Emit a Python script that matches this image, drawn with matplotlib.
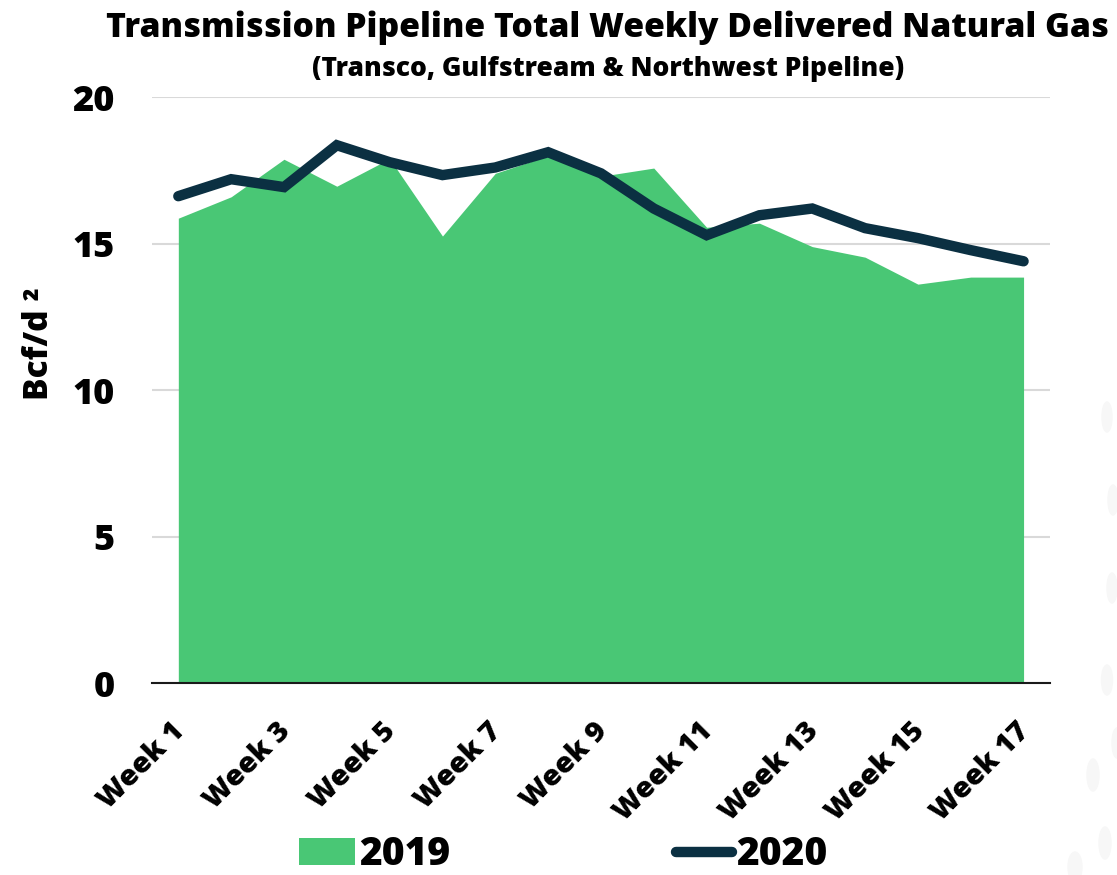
import numpy as np
import matplotlib.pyplot as plt
from matplotlib.patches import Ellipse
from matplotlib.transforms import ScaledTranslation

weeks = [f"Week {i}" for i in range(1, 18)]
gas_2019 = [15.87, 16.6, 17.88, 16.96, 17.9, 15.26, 17.4, 18.0, 17.3, 17.58,
            15.56, 15.7, 14.9, 14.54, 13.62, 13.86, 13.86]
gas_2020 = [16.62, 17.2, 16.93, 18.36, 17.78, 17.34, 17.6, 18.12, 17.4, 16.2,
            15.29, 15.97, 16.2, 15.53, 15.19, 14.78, 14.4]
yticks = [0, 5, 10, 15, 20]

GREEN = "#49c775"
NAVY = "#0b3042"
FONT = "Open Sans"
W = "heavy"

plt.rcParams["font.family"] = [FONT, "DejaVu Sans"]
plt.rcParams["font.weight"] = "bold"

fig = plt.figure(figsize=(11.17, 8.75), dpi=100)

# faint decorative dots along the right edge (background art)
for (px, py, w, h) in [(1107, 417, 10, 30), (1113, 500, 10, 30), (1112, 588, 10, 30),
                       (1107, 680, 11, 30), (1117, 743, 10, 30), (1093, 775, 12, 32),
                       (1105, 843, 12, 32), (1075, 867, 14, 30)]:
    fig.patches.append(Ellipse((px / 1117, 1 - py / 875), w / 1117, h / 875,
                               transform=fig.transFigure, color="#f7f7f7", zorder=0))

ax = fig.add_axes([0.136, 0.219, 0.804, 0.670])
ax.patch.set_alpha(0)

x = np.arange(1, len(weeks) + 1)
ax.fill_between(x, gas_2019, 0, color=GREEN, linewidth=0, label="2019", zorder=2)
ax.plot(x, gas_2020, color=NAVY, linewidth=7.5, solid_capstyle="round",
        solid_joinstyle="miter", label="2020", zorder=3)

ax.set_xlim(0.5, 17.5)
ax.set_ylim(0, 20)
ax.set_yticks(yticks)
ax.set_yticklabels([str(t) for t in yticks], fontsize=26, fontweight=W)
ax.yaxis.grid(True, color="#d9d9d9", linewidth=1.5, zorder=0)
ax.set_axisbelow(True)

ax.set_xticks(x[::2])
ax.set_xticklabels(weeks[::2], rotation=45, ha="right", rotation_mode="anchor",
                   fontsize=21, fontweight=W)
ax.tick_params(axis="y", length=0, pad=27)
ax.tick_params(axis="x", length=0, pad=24)
shift = ScaledTranslation(-8 / 100, 0, fig.dpi_scale_trans)
for lab in ax.get_xticklabels():
    lab.set_transform(lab.get_transform() + shift)

for s in ["top", "right", "left"]:
    ax.spines[s].set_visible(False)
ax.spines["bottom"].set_color("#1a1a1a")
ax.spines["bottom"].set_linewidth(1.5)
ax.spines["bottom"].set_zorder(4)

ax.set_ylabel("Bcf/d ²", fontsize=24, fontweight=W)
ax.yaxis.set_label_coords(-0.107, 0.58)

fig.text(0.544, 0.968, "Transmission Pipeline Total Weekly Delivered Natural Gas",
         ha="center", va="center", fontsize=24.2, fontweight=W)
fig.text(0.544, 0.921, "(Transco, Gulfstream & Northwest Pipeline)",
         ha="center", va="center", fontsize=19, fontweight=W)

leg = fig.legend(loc="center", bbox_to_anchor=(0.504, 0.023), ncol=2,
                 frameon=False, handlelength=1.45, handletextpad=0.1,
                 columnspacing=5.8, prop={"weight": W, "size": 28})

fig.savefig("out.png", dpi=100, facecolor="white")
